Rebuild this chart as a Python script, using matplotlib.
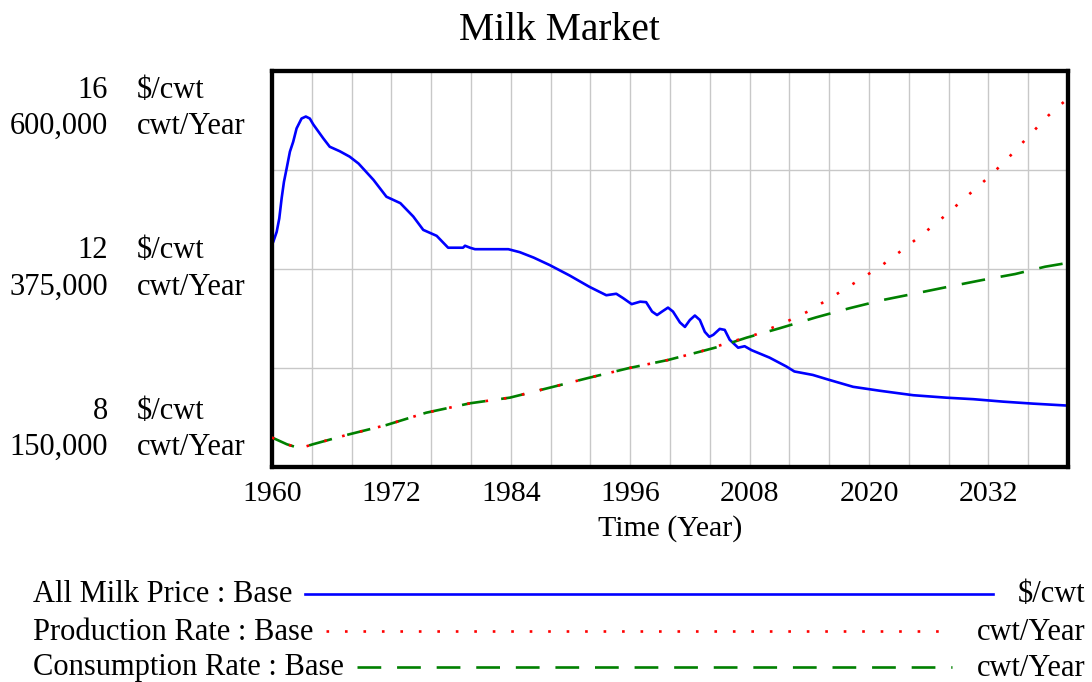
import matplotlib
matplotlib.use("Agg")
import matplotlib.pyplot as plt
from matplotlib.transforms import blended_transform_factory
from matplotlib.lines import Line2D

plt.rcParams['font.family'] = ['Liberation Serif', 'DejaVu Serif']

title = "Milk Market"
x_label = "Time (Year)"

price_years = [1960.0, 1960.13, 1960.47, 1960.73, 1960.97, 1961.2, 1961.47, 1961.8, 1962.13,
               1962.47, 1962.97, 1963.4, 1963.8, 1964.15, 1965.15, 1965.8, 1966.8, 1967.8,
               1968.7, 1970.2, 1971.5, 1972.9, 1974.2, 1975.2, 1976.55, 1977.7, 1979.2,
               1979.4, 1979.9, 1980.4, 1983.75, 1984.9, 1986.3, 1987.9, 1989.9, 1991.9,
               1993.6, 1994.6, 1995.3, 1996.15, 1997.0, 1997.6, 1998.2, 1998.7, 1999.2,
               1999.8, 2000.3, 2001.0, 2001.5, 2002.0, 2002.5, 2003.0, 2003.5, 2003.95,
               2004.35, 2005.0, 2005.5, 2006.0, 2006.85, 2007.5, 2008.2, 2010.0, 2011.7,
               2012.5, 2014.35, 2016.0, 2018.4, 2021.1, 2024.45, 2027.8, 2030.5, 2033.5,
               2036.5, 2040.0]
price_values = [12.5, 12.55, 12.75, 13.02, 13.43, 13.76, 14.03, 14.37, 14.57,
                14.84, 15.04, 15.08, 15.04, 14.92, 14.64, 14.47, 14.38, 14.27,
                14.13, 13.80, 13.46, 13.33, 13.06, 12.79, 12.67, 12.43, 12.43,
                12.47, 12.43, 12.40, 12.40, 12.34, 12.23, 12.08, 11.87, 11.64,
                11.47, 11.50, 11.41, 11.29, 11.34, 11.33, 11.14, 11.07, 11.14,
                11.22, 11.14, 10.92, 10.83, 10.97, 11.06, 10.97, 10.73, 10.63,
                10.67, 10.79, 10.77, 10.57, 10.41, 10.44, 10.36, 10.21, 10.03,
                9.93, 9.86, 9.76, 9.62, 9.54, 9.45, 9.40, 9.37, 9.32,
                9.28, 9.24]

production_years = [1960.0, 1961.5, 1962.8, 1964.1, 1967.5, 1971.5, 1975.5, 1979.9, 1983.9,
                    1987.9, 1991.9, 1995.8, 1999.8, 2003.0, 2006.0, 2008.7, 2011.5, 2013.9,
                    2016.5, 2018.9, 2021.2, 2023.3, 2025.5, 2027.6, 2029.6, 2031.9, 2033.7,
                    2036.0, 2038.0, 2040.0]
production_values = [183500, 175800, 171200, 175800, 186400, 197700, 211700, 222400, 228800,
                     240100, 251500, 262200, 271600, 281000, 291700, 300800, 314000, 326900,
                     344700, 361700, 378400, 396200, 415500, 435200, 455300, 478100, 497700,
                     525300, 549100, 569000]

consumption_years = [1960.0, 1961.5, 1962.8, 1964.1, 1967.5, 1971.5, 1975.5, 1979.9, 1983.9,
                     1987.9, 1991.9, 1995.8, 1999.8, 2003.0, 2005.0, 2007.7, 2011.0, 2014.7,
                     2018.0, 2021.4, 2024.7, 2028.0, 2031.4, 2034.7, 2037.7, 2040.0]
consumption_values = [183500, 175800, 171200, 175800, 186400, 197700, 211700, 222400, 228800,
                      240100, 251500, 262200, 271600, 281000, 287000, 297000, 307600, 320100,
                      330300, 339800, 347300, 354900, 362500, 369300, 377600, 382000]

x_ticks = [1960, 1972, 1984, 1996, 2008, 2020, 2032]
price_ticks = [8, 12, 16]
rate_ticks = [150000, 375000, 600000]
price_unit = "$/cwt"
rate_unit = "cwt/Year"

legend_labels = ["All Milk Price : Base", "Production Rate : Base", "Consumption Rate : Base"]
legend_units = [price_unit, rate_unit, rate_unit]

BLUE = "#0000ff"
RED = "#ff0000"
GREEN = "#008000"
LW = 1.9

W, H = 1092, 682
fig = plt.figure(figsize=(W / 100, H / 100), dpi=100)
ax = fig.add_axes([272 / W, 1 - 467 / H, (1068 - 272) / W, (467 - 71) / H])
ax2 = ax.twinx()

ax.set_xlim(1960, 2040)
ax.set_ylim(8, 16)
ax2.set_ylim(150000, 600000)

ax.set_xticks(x_ticks)
ax.set_xticks(list(range(1960, 2041, 4)), minor=True)
ax.set_yticks([8, 10, 12, 14, 16])
ax.set_yticklabels([])
ax.tick_params(axis='both', which='both', length=0)
ax.tick_params(axis='x', labelsize=21.5, pad=10)
ax.grid(True, which='both', color='#c8c8c8', linewidth=1.0)
ax.set_axisbelow(True)
ax2.set_yticks([])
for a in (ax, ax2):
    for s in a.spines.values():
        s.set_linewidth(3)
        s.set_color('black')

ax.set_xlabel(x_label, fontsize=21.5, labelpad=6)

ax.plot(price_years, price_values, color=BLUE, lw=LW, zorder=3)
ax2.plot(consumption_years, consumption_values, color=GREEN, lw=LW,
         linestyle=(0, (9, 6)), zorder=3)
ax2.plot(production_years, production_values, color=RED, lw=LW,
         linestyle=(0, (1, 6)), zorder=4)

fig.text(559 / W, 1 - 31 / H, title, fontsize=28.5, ha='center', va='center')

# y-axis labels (two per tick)
tr = blended_transform_factory(fig.transFigure, ax.transAxes)
for pv, rv in zip(price_ticks, rate_ticks):
    f = (pv - 8) / (16 - 8)
    c = min(max(f, 0.094), 0.906)
    for val, unit, dy in ((f"{pv:g}", price_unit, 0.0455), (f"{rv:,}", rate_unit, -0.0455)):
        ax.text(108 / W, c + dy, val, transform=tr, ha='right', va='center', fontsize=22)
        ax.text(137 / W, c + dy, unit, transform=tr, ha='left', va='center', fontsize=22)

# legend
legend_y = [595, 632, 668]
legend_styles = [dict(color=BLUE, lw=LW, linestyle='-'),
                 dict(color=RED, lw=LW, linestyle=(0, (1, 6))),
                 dict(color=GREEN, lw=LW, linestyle=(0, (9, 6)))]
renderer = fig.canvas.get_renderer()
for lab, unit, yy, st in zip(legend_labels, legend_units, legend_y, legend_styles):
    t1 = fig.text(33 / W, 1 - yy / H, lab, ha='left', va='center', fontsize=22)
    t2 = fig.text(1085 / W, 1 - yy / H, unit, ha='right', va='center', fontsize=22)
    b1 = t1.get_window_extent(renderer)
    b2 = t2.get_window_extent(renderer)
    x0 = (b1.x1 + 13) / W
    x1 = (b2.x0 - 24) / W
    fig.add_artist(Line2D([x0, x1], [1 - (yy - 1) / H] * 2, transform=fig.transFigure, **st))

fig.savefig("out.png", dpi=100)
